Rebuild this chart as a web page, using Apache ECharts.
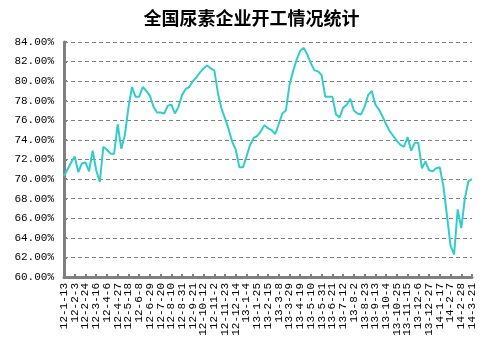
<!DOCTYPE html>
<html><head><meta charset="utf-8">
<script src="https://cdn.jsdelivr.net/npm/echarts@6/dist/echarts.min.js"></script>
<style>html,body{margin:0;padding:0;background:#fff}#c{width:503px;height:351px}</style>
</head><body><div id="c"></div>
<script>
const titleText = '全国尿素企业开工情况统计';
const categories = [
'12-1-13','12-1-20','12-1-27','12-2-3','12-2-10','12-2-17','12-2-24','12-3-2','12-3-9','12-3-16','12-3-23','12-3-30',
'12-4-6','12-4-13','12-4-20','12-4-27','12-5-4','12-5-11','12-5-18','12-5-25','12-6-1','12-6-8','12-6-15','12-6-22','12-6-29',
'12-7-6','12-7-13','12-7-20','12-7-27','12-8-3','12-8-10','12-8-17','12-8-24','12-8-31','12-9-7','12-9-14','12-9-21','12-9-28',
'12-10-5','12-10-12','12-10-19','12-10-26','12-11-2','12-11-9','12-11-16','12-11-23','12-11-30','12-12-7','12-12-14','12-12-21','12-12-28',
'13-1-4','13-1-11','13-1-18','13-1-25','13-2-1','13-2-8','13-2-15','13-2-22','13-3-1','13-3-8','13-3-15','13-3-22','13-3-29',
'13-4-5','13-4-12','13-4-19','13-4-26','13-5-3','13-5-10','13-5-17','13-5-24','13-5-31','13-6-7','13-6-14','13-6-21','13-6-28',
'13-7-5','13-7-12','13-7-19','13-7-26','13-8-2','13-8-9','13-8-16','13-8-23','13-8-30','13-9-6','13-9-13','13-9-20','13-9-27',
'13-10-4','13-10-11','13-10-18','13-10-25','13-11-1','13-11-8','13-11-15','13-11-22','13-11-29','13-12-6','13-12-13','13-12-20','13-12-27',
'14-1-3','14-1-10','14-1-17','14-1-24','14-1-31','14-2-7','14-2-14','14-2-21','14-2-28','14-3-7','14-3-14','14-3-21'
];
const rates = [
70.3,71.0,71.7,72.3,70.7,71.6,71.7,70.8,72.9,70.9,69.7,73.3,
73.0,72.6,72.6,75.6,73.1,74.5,77.3,79.4,78.4,78.4,79.4,79.0,78.5,
77.4,76.8,76.8,76.7,77.5,77.6,76.7,77.4,78.6,79.2,79.4,80.0,80.4,
80.9,81.3,81.6,81.3,81.1,78.8,77.2,76.2,75.1,73.8,73.0,71.2,71.2,
72.3,73.5,74.2,74.4,74.9,75.5,75.2,75.0,74.6,75.6,76.7,77.0,79.6,
81.0,82.2,83.1,83.4,82.7,81.8,81.1,81.0,80.6,78.4,78.4,78.4,76.6,
76.3,77.3,77.6,78.2,77.0,76.7,76.6,77.4,78.6,79.0,77.6,77.1,76.4,
75.6,74.9,74.4,73.9,73.5,73.3,74.3,72.9,73.7,73.7,71.1,71.8,70.9,
70.8,71.1,71.2,69.3,66.3,63.2,62.3,66.9,65.0,68.0,69.8,70.0
];
const yMin = 60, yMax = 84, yStep = 2;
const labelEvery = 3;

const chart = echarts.init(document.getElementById('c'), null, {renderer:'canvas'});
const monoFont = '"Liberation Mono","DejaVu Sans Mono",monospace';
chart.setOption({
  animation: false,
  backgroundColor: '#ffffff',
  title: {
    text: titleText, left: 'center', top: 9, padding: 0,
    textStyle: {fontFamily: '"Noto Sans CJK SC",sans-serif', fontSize: 18, fontWeight: 'bold', color: '#000'}
  },
  grid: {left: 64, right: 31, top: 42, bottom: 74},
  xAxis: {
    type: 'category', data: categories, boundaryGap: false,
    axisLine: {lineStyle: {color: '#808080', width: 3}},
    axisTick: {show: true, inside: true, length: 3, interval: labelEvery - 1, lineStyle: {color: '#808080', width: 2}},
    axisLabel: {interval: 0, rotate: 90, color: '#000', fontFamily: monoFont, fontSize: 11, margin: 6,
      hideOverlap: false,
      formatter: (v, i) => (i % labelEvery === 0 ? v : '')},
    splitLine: {show: false}
  },
  yAxis: {
    type: 'value', min: yMin, max: yMax, interval: yStep,
    axisLine: {show: true, lineStyle: {color: '#808080', width: 3}},
    axisTick: {show: true, inside: true, length: 3, lineStyle: {color: '#808080', width: 2}},
    axisLabel: {color: '#000', fontFamily: monoFont, fontSize: 11, margin: 10,
      formatter: v => v.toFixed(2) + '%'},
    splitLine: {show: true, lineStyle: {color: '#808080', type: [4, 3], width: 1}}
  },
  series: [{
    type: 'line', data: rates, symbol: 'none', smooth: false,
    lineStyle: {color: '#33CCCC', width: 2}
  }]
});
</script></body></html>
